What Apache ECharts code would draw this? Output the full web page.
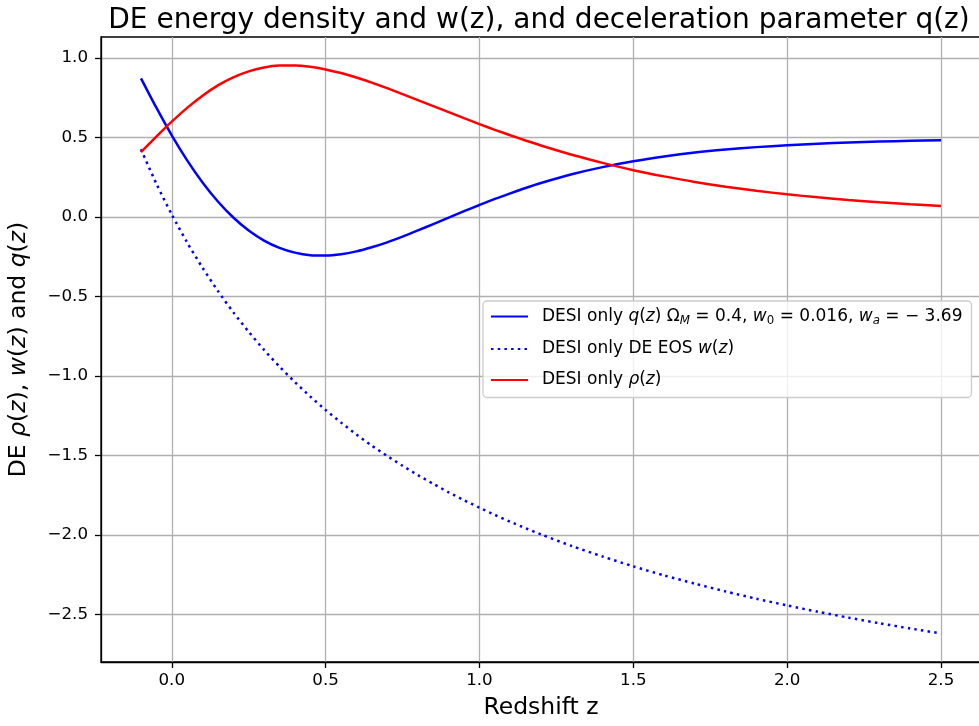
<!DOCTYPE html>
<html>
<head>
<meta charset="utf-8">
<title>DE energy density and w(z), and deceleration parameter q(z)</title>
<script src="https://cdn.jsdelivr.net/npm/echarts@6.0.0/dist/echarts.min.js"></script>
<style>
html, body { margin: 0; padding: 0; background: #fff; }
#chart { width: 979px; height: 726px; }
</style>
</head>
<body>
<div id="chart"></div>
<script>
// redshift samples
var zs = [-0.1, -0.05, 0, 0.05, 0.1, 0.15, 0.2, 0.25, 0.3, 0.35, 0.4, 0.45, 0.5, 0.55,
          0.6, 0.65, 0.7, 0.75, 0.8, 0.85, 0.9, 0.95, 1.0, 1.05, 1.1, 1.15, 1.2,
          1.3, 1.4, 1.5, 1.6, 1.7, 1.8, 1.9, 2.0, 2.1, 2.2, 2.3, 2.4, 2.5];
// deceleration parameter q(z)
var qVals = [0.873, 0.688, 0.514, 0.357, 0.218, 0.098, -0.003, -0.085, -0.148, -0.194,
             -0.224, -0.240, -0.242, -0.234, -0.216, -0.190, -0.159, -0.123, -0.084, -0.044,
             -0.004, 0.037, 0.076, 0.114, 0.149, 0.183, 0.214,
             0.269, 0.314, 0.351, 0.381, 0.406, 0.425, 0.440, 0.452, 0.462, 0.469, 0.475, 0.480, 0.484];
// DE equation of state w(z)
var wVals = [0.426, 0.210, 0.016, -0.160, -0.319, -0.465, -0.599, -0.722, -0.836, -0.941,
             -1.038, -1.129, -1.214, -1.293, -1.368, -1.438, -1.503, -1.565, -1.624, -1.679,
             -1.732, -1.782, -1.829, -1.874, -1.917, -1.958, -1.997,
             -2.070, -2.136, -2.198, -2.255, -2.307, -2.356, -2.402, -2.444, -2.484, -2.521, -2.556, -2.589, -2.620];
// DE energy density rho(z)
var rhoVals = [0.408, 0.506, 0.600, 0.687, 0.764, 0.829, 0.879, 0.917, 0.941, 0.953,
               0.954, 0.946, 0.929, 0.906, 0.878, 0.846, 0.811, 0.774, 0.736, 0.698,
               0.660, 0.622, 0.585, 0.549, 0.515, 0.482, 0.450,
               0.392, 0.341, 0.295, 0.256, 0.221, 0.191, 0.165, 0.143, 0.124, 0.107, 0.093, 0.081, 0.070];

var xTicks = [0, 0.5, 1.0, 1.5, 2.0, 2.5];
var yTicks = [-2.5, -2.0, -1.5, -1.0, -0.5, 0, 0.5, 1.0];

var FONT = 'DejaVu Sans';

function pairs(ys) {
    return zs.map(function (z, i) { return [z, ys[i]]; });
}
function tickFmt(v) {
    return v.toFixed(1).replace('-', '\u2212');
}

var richStyles = {
    t: { fontFamily: FONT, fontSize: 17, color: '#000', lineHeight: 20 },
    i: { fontFamily: FONT, fontSize: 17, color: '#000', fontStyle: 'italic', lineHeight: 20 },
    s: { fontFamily: FONT, fontSize: 11.8, color: '#000', lineHeight: 9, verticalAlign: 'bottom' },
    si: { fontFamily: FONT, fontSize: 11.8, color: '#000', fontStyle: 'italic', lineHeight: 9, verticalAlign: 'bottom' }
};

var legendText = {
    q: '{t|DESI only }{i|q}{t|(}{i|z}{t|) Ω}{si|M}{t| = 0.4, }{i|w}{s|0}{t| = 0.016, }{i|w}{si|a}{t| = − 3.69}',
    w: '{t|DESI only DE EOS }{i|w}{t|(}{i|z}{t|)}',
    rho: '{t|DESI only }{i|ρ}{t|(}{i|z}{t|)}'
};

var myChart = echarts.init(document.getElementById('chart'));

var option = {
    animation: false,
    backgroundColor: '#fff',
    title: {
        text: 'DE energy density and w(z), and deceleration parameter q(z)',
        left: 534,
        top: 2,
        textAlign: 'center',
        textStyle: { fontFamily: FONT, fontSize: 28, fontWeight: 'normal', color: '#000' }
    },
    grid: {
        left: 101, right: -2, top: 37, bottom: 64,
        show: true, borderColor: '#000', borderWidth: 1.3,
        containLabel: false, outerBoundsMode: 'none'
    },
    legend: {
        orient: 'vertical',
        left: 483,
        top: 301,
        itemWidth: 37,
        itemHeight: 14,
        itemGap: 14,
        padding: [7, 9, 9, 7],
        backgroundColor: 'rgba(255,255,255,0.8)',
        borderColor: '#cccccc',
        borderWidth: 1.3,
        borderRadius: 4,
        data: ['q', 'w', 'rho'],
        itemStyle: { opacity: 0 },
        formatter: function (name) { return legendText[name]; },
        textStyle: { fontFamily: FONT, fontSize: 17, color: '#000', padding: [0, 0, 0, 9], rich: richStyles }
    },
    xAxis: {
        type: 'value',
        min: -0.23,
        max: 2.63,
        name: 'Redshift z',
        nameLocation: 'middle',
        nameGap: 34,
        nameTextStyle: { fontFamily: FONT, fontSize: 23.5, color: '#000' },
        axisLine: { show: true, onZero: false, lineStyle: { color: '#000', width: 1.3 } },
        axisTick: { show: true, customValues: xTicks, length: 6, lineStyle: { color: '#000', width: 1.3 } },
        axisLabel: { customValues: xTicks, formatter: tickFmt, fontFamily: FONT, fontSize: 16.7, color: '#000', margin: 10 },
        splitLine: { show: true, lineStyle: { color: '#b0b0b0', width: 1.3 } }
    },
    yAxis: {
        type: 'value',
        min: -2.80,
        max: 1.133,
        name: '{t|DE }{i|ρ}{t|(}{i|z}{t|), }{i|w}{t|(}{i|z}{t|) and }{i|q}{t|(}{i|z}{t|)}',
        nameLocation: 'middle',
        nameRotate: 90,
        nameGap: 70,
        nameTextStyle: {
            fontFamily: FONT, fontSize: 23.5, color: '#000',
            rich: {
                t: { fontFamily: FONT, fontSize: 23.5, color: '#000' },
                i: { fontFamily: FONT, fontSize: 23.5, color: '#000', fontStyle: 'italic' }
            }
        },
        axisLine: { show: true, onZero: false, lineStyle: { color: '#000', width: 1.3 } },
        axisTick: { show: true, customValues: yTicks, length: 6, lineStyle: { color: '#000', width: 1.3 } },
        axisLabel: { customValues: yTicks, formatter: tickFmt, fontFamily: FONT, fontSize: 16.7, color: '#000', margin: 13 },
        splitLine: { show: true, lineStyle: { color: '#b0b0b0', width: 1.3 } }
    },
    series: [
        {
            name: 'q',
            type: 'line',
            data: pairs(qVals),
            smooth: 0.25,
            symbol: 'none',
            lineStyle: { color: '#0000ff', width: 2.5 },
            itemStyle: { color: '#0000ff' }
        },
        {
            name: 'w',
            type: 'line',
            data: pairs(wVals),
            smooth: 0.25,
            symbol: 'none',
            lineStyle: { color: '#0000ff', width: 2.5, type: [2.5, 4.2], cap: 'butt' },
            itemStyle: { color: '#0000ff' }
        },
        {
            name: 'rho',
            type: 'line',
            data: pairs(rhoVals),
            smooth: 0.25,
            symbol: 'none',
            lineStyle: { color: '#ff0000', width: 2.5 },
            itemStyle: { color: '#ff0000' }
        }
    ]
};

myChart.setOption(option);
window.addEventListener('resize', function () {
    myChart.resize();
});
</script>
</body>
</html>
